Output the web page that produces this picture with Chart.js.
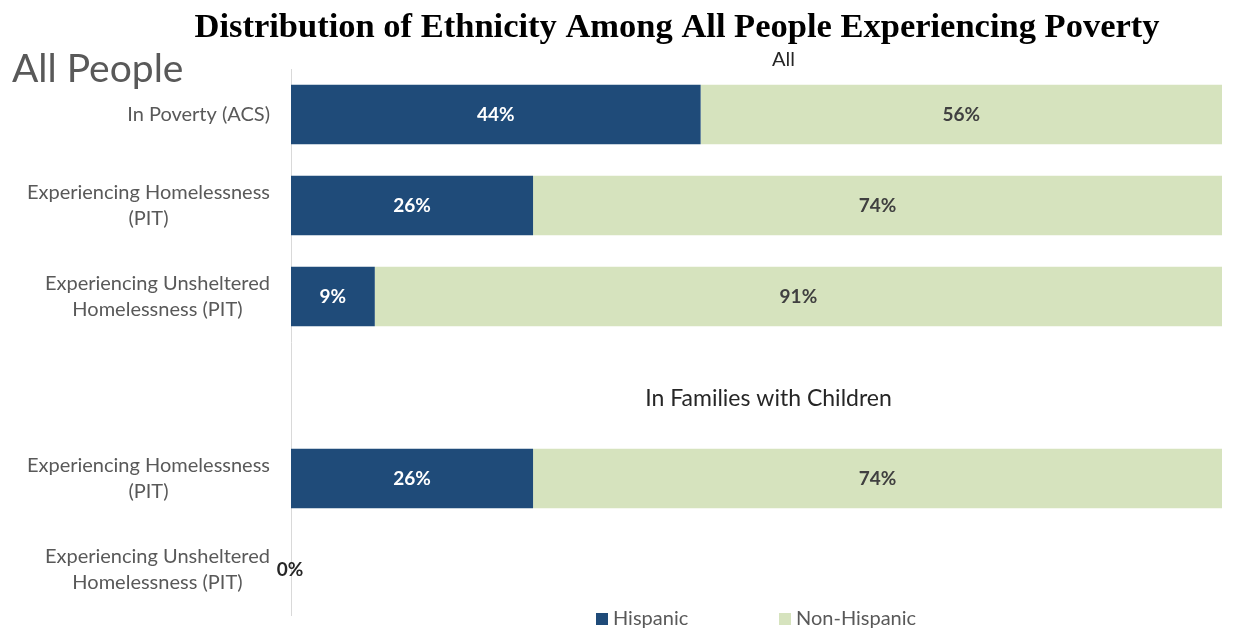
<!DOCTYPE html>
<html>
<head>
<meta charset="utf-8">
<script src="https://cdn.jsdelivr.net/npm/chart.js@4.4.1/dist/chart.umd.min.js"></script>
<style>
  html, body { margin: 0; padding: 0; background: #ffffff; }
  #wrap { width: 1247px; height: 637px; position: relative; }
</style>
</head>
<body>
<div id="wrap"><canvas id="c" width="1247" height="637"></canvas></div>
<script>
// Row labels (the empty row holds the "In Families with Children" heading)
const categories = [
  'In Poverty (ACS)',
  ['Experiencing Homelessness', '(PIT)'],
  ['Experiencing Unsheltered', 'Homelessness (PIT)'],
  '',
  ['Experiencing Homelessness', '(PIT)'],
  ['Experiencing Unsheltered', 'Homelessness (PIT)']
];
// Share of each group, in percent
const hispanic    = [44, 26, 9, null, 26, 0];
const nonHispanic = [56, 74, 91, null, 74, null];
const seriesNames = ['Hispanic', 'Non-Hispanic'];
const seriesColors = ['#1F4B79', '#D6E3BE'];
const labelColors = ['#ffffff', '#404040'];

const mainTitle = 'Distribution of Ethnicity Among All People Experiencing Poverty';
const sideTitle = 'All People';
const groupHeadings = [
  { text: 'All', row: 0, dy: -55, dx: 27, size: 20 },
  { text: 'In Families with Children', row: 3, dy: 11, dx: 12, size: 23 }
];

const sansFont = 'Lato, "Open Sans", sans-serif';

// Row labels: right-aligned block, lines centred within the block
const rowLabels = {
  id: 'rowLabels',
  afterDraw(chart) {
    const ctx = chart.ctx;
    const yScale = chart.scales.y;
    const right = 270;
    const lineH = 26;
    ctx.save();
    ctx.font = '20px ' + sansFont;
    ctx.fillStyle = '#595959';
    ctx.textAlign = 'center';
    ctx.textBaseline = 'middle';
    chart.data.labels.forEach((lab, i) => {
      const lines = Array.isArray(lab) ? lab : [lab];
      if (!lines.join('')) return;
      const w = Math.max(...lines.map(l => ctx.measureText(l).width));
      const cx = right - w / 2;
      const cy = yScale.getPixelForValue(i);
      lines.forEach((l, k) => {
        ctx.fillText(l, cx, cy + (k - (lines.length - 1) / 2) * lineH);
      });
    });
    ctx.restore();
  }
};

// Draws the titles, group headings, value labels and the legend
const decorations = {
  id: 'decorations',
  afterDatasetsDraw(chart) {
    const ctx = chart.ctx;
    const area = chart.chartArea;
    const yScale = chart.scales.y;
    ctx.save();

    // main title
    ctx.fillStyle = '#000000';
    ctx.font = 'bold 34.5px "Liberation Serif", "Times New Roman", serif';
    ctx.textAlign = 'center';
    ctx.textBaseline = 'middle';
    ctx.fillText(mainTitle, 677, 28);

    // side title
    ctx.fillStyle = '#595959';
    ctx.font = '39px ' + sansFont;
    ctx.textAlign = 'left';
    ctx.fillText(sideTitle, 12, 69);

    // group headings
    ctx.fillStyle = '#262626';
    ctx.textAlign = 'center';
    const cx = (area.left + area.right) / 2;
    groupHeadings.forEach(h => {
      ctx.font = h.size + 'px ' + sansFont;
      ctx.fillText(h.text, cx + h.dx, yScale.getPixelForValue(h.row) + h.dy);
    });

    // value labels at the centre of each segment
    ctx.font = 'bold 19px ' + sansFont;
    chart.data.datasets.forEach((ds, di) => {
      const meta = chart.getDatasetMeta(di);
      meta.data.forEach((bar, i) => {
        const v = ds.data[i];
        if (v === null || v === undefined) return;
        const p = bar.getProps(['x', 'y', 'base'], true);
        const x = (p.x + p.base) / 2;
        ctx.fillStyle = v === 0 ? '#262626' : labelColors[di];
        ctx.fillText(v + '%', v === 0 ? x - 1 : x, p.y);
      });
    });

    // legend
    ctx.font = '20px ' + sansFont;
    ctx.textAlign = 'left';
    const legendY = 619;
    const legendX = [596, 779];
    chart.data.datasets.forEach((ds, di) => {
      ctx.fillStyle = ds.backgroundColor;
      ctx.fillRect(legendX[di], legendY - 6, 12, 12);
      ctx.fillStyle = '#595959';
      ctx.fillText(ds.label, legendX[di] + 17, legendY);
    });

    ctx.restore();
  }
};

new Chart(document.getElementById('c'), {
  type: 'bar',
  data: {
    labels: categories,
    datasets: [
      { label: seriesNames[0], data: hispanic, backgroundColor: seriesColors[0] },
      { label: seriesNames[1], data: nonHispanic, backgroundColor: seriesColors[1] }
    ]
  },
  options: {
    indexAxis: 'y',
    responsive: false,
    animation: false,
    events: [],
    layout: { padding: { top: 69, bottom: 22, left: 0, right: 25 } },
    datasets: { bar: { categoryPercentage: 1.0, barPercentage: 0.655 } },
    scales: {
      x: {
        stacked: true, min: 0, max: 100, display: false
      },
      y: {
        stacked: true,
        grid: { display: false, drawTicks: false },
        border: { display: true, color: '#d9d9d9', width: 1 },
        ticks: { display: false },
        afterFit(scale) { scale.width = 291; }
      }
    },
    plugins: {
      legend: { display: false },
      tooltip: { enabled: false },
      title: { display: false }
    }
  },
  plugins: [decorations, rowLabels]
});
</script>
</body>
</html>
